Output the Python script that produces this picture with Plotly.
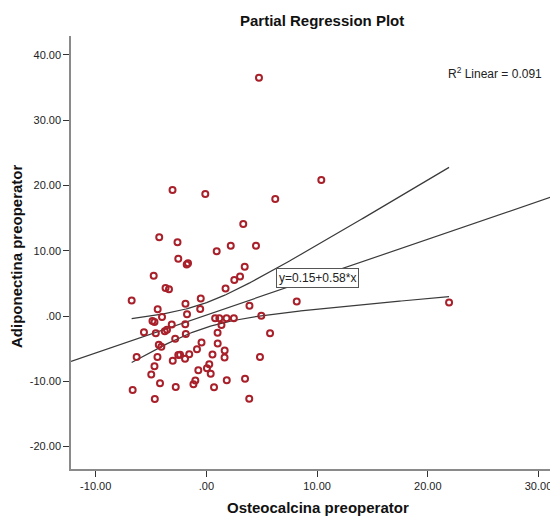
import numpy as np
import plotly.graph_objects as go

# Data (partial regression residuals)
osteocalcina = [4.75, 10.38, -3.06, -0.10, 6.22, 3.33, -4.26, -2.61, 0.93, 2.20,
                4.48, -2.54, -1.78, -1.66, 3.46, 3.04, 2.52, -4.76, -3.69, -3.38,
                1.73, -6.75, -1.89, -0.51, 3.89, 8.16, 21.92, -4.40, -0.56, -1.75,
                -4.87, -4.69, -4.01, 0.79, 1.17, 1.82, 2.48, 4.96, -5.64, -4.57,
                -3.76, -3.56, -3.13, -1.91, 1.36, 1.01, 5.75, -2.82, -1.86, -0.44,
                1.02, -4.30, -4.07, -0.85, 1.65, -6.30, -4.42, -3.04, -2.54, -2.38,
                -1.93, -1.55, 0.55, 1.64, 4.84, -4.69, -4.98, -0.73, 0.05, 0.26,
                0.39, 3.49, 1.84, -4.19, -2.77, -1.17, -1.00, 0.69, -6.66, -4.66,
                3.87]
adiponectina = [36.49, 20.83, 19.30, 18.68, 17.92, 14.09, 12.05, 11.29, 9.91, 10.77,
                10.77, 8.77, 7.89, 8.07, 7.53, 6.05, 5.51, 6.17, 4.29, 4.10,
                4.21, 2.37, 1.88, 2.68, 1.58, 2.22, 2.07, 1.04, 1.07, 0.26,
                -0.77, -0.92, -0.15, -0.35, -0.35, -0.35, -0.35, 0.05, -2.48, -2.65,
                -2.34, -2.10, -1.30, -1.27, -1.38, -2.56, -2.63, -3.49, -2.76, -4.04,
                -4.20, -4.40, -4.72, -5.10, -5.27, -6.28, -6.28, -6.85, -5.97, -5.94,
                -6.55, -5.85, -5.90, -6.37, -6.28, -7.70, -8.96, -8.30, -8.01, -7.38,
                -8.84, -9.62, -9.85, -10.31, -10.87, -10.44, -9.88, -10.90, -11.33, -12.71,
                -12.66]

intercept = 0.15
slope = 0.58
r2_linear = 0.091

x_tickvals = [-10, 0, 10, 20, 30]
x_ticktext = ["-10.00", ".00", "10.00", "20.00", "30.00"]
y_tickvals = [-20, -10, 0, 10, 20, 30, 40]
y_ticktext = ["-20.00", "-10.00", ".00", "10.00", "20.00", "30.00", "40.00"]

x = np.array(osteocalcina)
y = np.array(adiponectina)
n = len(x)
xm = x.mean()
resid = y - (intercept + slope * x)
s = np.sqrt(np.sum(resid ** 2) / (n - 2))
sxx = np.sum((x - xm) ** 2)
t = 1.99

x_range = [-12.23, 31.76]
y_range = [-23.43, 42.88]

xs = np.linspace(x.min(), x.max(), 200)
fit_band = intercept + slope * xs
half = t * s * np.sqrt(1.0 / n + (xs - xm) ** 2 / sxx)

xl = np.linspace(x_range[0], x_range[1], 2)

line_col = "#3a3a3a"
fig = go.Figure()
fig.add_trace(go.Scatter(x=xl, y=intercept + slope * xl, mode="lines",
                         line=dict(color=line_col, width=1.2), hoverinfo="skip"))
fig.add_trace(go.Scatter(x=xs, y=fit_band + half, mode="lines",
                         line=dict(color=line_col, width=1.2), hoverinfo="skip"))
fig.add_trace(go.Scatter(x=xs, y=fit_band - half, mode="lines",
                         line=dict(color=line_col, width=1.2), hoverinfo="skip"))
fig.add_trace(go.Scatter(x=osteocalcina, y=adiponectina, mode="markers",
                         marker=dict(symbol="circle-open", size=6,
                                     line=dict(color="#a8202a", width=2),
                                     color="#a8202a")))

# page body has an 8px default margin, so the figure is 8px smaller
PW, PH = 550, 508
ML, MT, MB = 63, 28, 47
plot_w = PW - ML
plot_h = PH - MT - MB

font_family = "Liberation Sans, Arial, sans-serif"
fig.update_layout(
    width=PW, height=PH,
    margin=dict(l=ML, r=0, t=MT, b=MB),
    paper_bgcolor="white", plot_bgcolor="white",
    showlegend=False,
    font=dict(family=font_family, size=11, color="#222"),
    xaxis=dict(range=x_range, tickvals=x_tickvals, ticktext=x_ticktext,
               showgrid=False, zeroline=False, showline=True, linecolor="#8a8a8a",
               linewidth=1.5, ticks="outside", ticklen=6, tickcolor="#333",
               tickfont=dict(size=11, color="#222")),
    yaxis=dict(range=y_range, tickvals=y_tickvals, ticktext=y_ticktext,
               showgrid=False, zeroline=False, showline=True, linecolor="#8a8a8a",
               linewidth=1.5, ticks="outside", ticklen=6, tickcolor="#333",
               tickfont=dict(size=11, color="#222")),
)

# page-pixel helpers (reference coordinates, plot area from x=71..558, y=36..469)
def px(xp):
    return (xp - 71) / plot_w

def py(yp):
    return (469 - yp) / plot_h

ann = []
ann.append(dict(text="<b>Partial Regression Plot</b>", xref="paper", yref="paper",
                x=px(322), y=py(21), xanchor="center", yanchor="middle",
                showarrow=False, font=dict(size=15, color="#111", family=font_family)))
ann.append(dict(text="<b>Osteocalcina preoperator</b>", xref="paper", yref="paper",
                x=px(318), y=py(507), xanchor="center", yanchor="middle",
                showarrow=False, font=dict(size=15, color="#111", family=font_family)))
ann.append(dict(text="<b>Adiponectina preoperator</b>", xref="paper", yref="paper",
                x=px(17), y=py(256), xanchor="center", yanchor="middle",
                textangle=-90, showarrow=False,
                font=dict(size=15, color="#111", family=font_family)))
ann.append(dict(text="R<sup>2</sup> Linear = %.3f" % r2_linear, xref="paper", yref="paper",
                x=px(446), y=py(72.7), xanchor="left", yanchor="middle",
                showarrow=False, font=dict(size=12, color="#222", family=font_family)))
ann.append(dict(text="y=%.2f+%.2f*x" % (intercept, slope), xref="paper", yref="paper",
                x=px(317), y=py(278), xanchor="center", yanchor="middle",
                showarrow=False, bgcolor="white", bordercolor="#555", borderwidth=1,
                borderpad=2, font=dict(size=12, color="#222", family=font_family)))
fig.update_layout(annotations=ann)

fig.write_html("out.html")
